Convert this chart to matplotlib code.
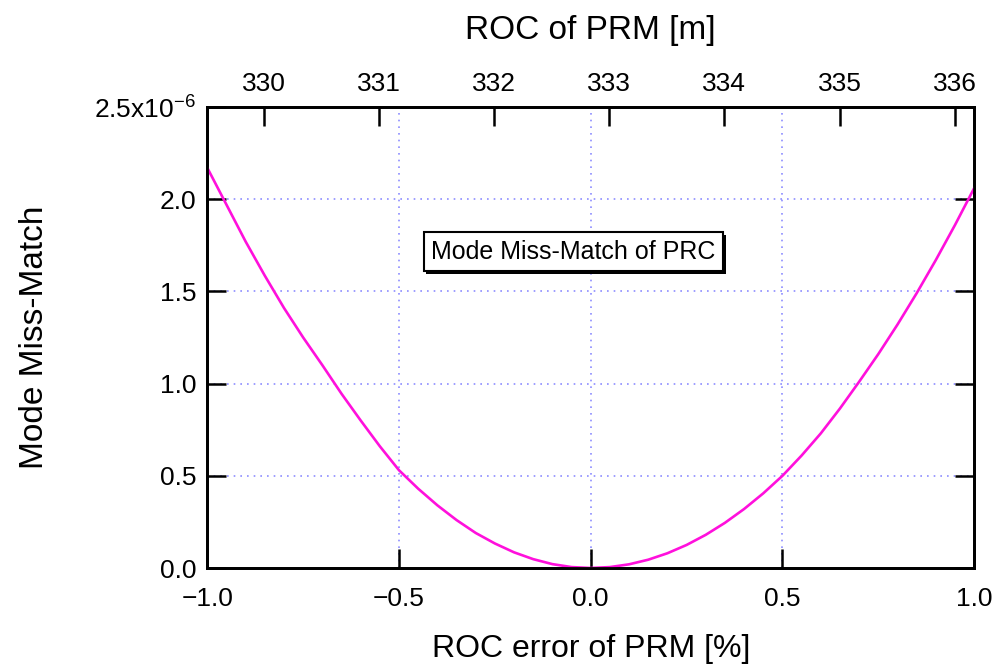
import matplotlib
matplotlib.use('Agg')
import matplotlib.pyplot as plt
import matplotlib.patheffects as pe
import numpy as np

# ROC error of PRM [%] vs mode miss-match (in units of 1e-6)
roc_err = [-1.0, -0.95, -0.9, -0.85, -0.8, -0.75, -0.7, -0.65, -0.6, -0.55,
           -0.5, -0.45, -0.4, -0.35, -0.3, -0.25, -0.2, -0.15, -0.1, -0.05, 0.0,
           0.05, 0.1, 0.15, 0.2, 0.25, 0.3, 0.35, 0.4, 0.45, 0.5,
           0.55, 0.6, 0.65, 0.7, 0.75, 0.8, 0.85, 0.9, 0.95, 1.0]
mismatch = [2.17, 1.97, 1.77, 1.585, 1.41, 1.25, 1.10, 0.945, 0.80, 0.66,
            0.53, 0.43, 0.34, 0.26, 0.19, 0.133, 0.085, 0.048, 0.021, 0.005, 0.0,
            0.005, 0.02, 0.045, 0.08, 0.125, 0.18, 0.245, 0.32, 0.405, 0.50,
            0.61, 0.73, 0.865, 1.01, 1.16, 1.32, 1.49, 1.67, 1.86, 2.06]

y_ticks = [0.0, 0.5, 1.0, 1.5, 2.0, 2.5]
y_labels = ['0.0', '0.5', '1.0', '1.5', '2.0', r'2.5x10$^{-6}$']
x_ticks = [-1.0, -0.5, 0.0, 0.5, 1.0]
x_labels = ['\u22121.0', '\u22120.5', '0.0', '0.5', '1.0']
top_ticks = [330, 331, 332, 333, 334, 335, 336]
R0 = 332.84  # nominal ROC of PRM [m]

plt.rcParams['font.family'] = ['Liberation Sans', 'DejaVu Sans']
plt.rcParams['mathtext.default'] = 'regular'

fig = plt.figure(figsize=(9.92, 6.71), dpi=100)
ax = fig.add_axes([0.209, 0.1535, 0.773, 0.687])

ax.plot(roc_err, mismatch, color='#ff10dc', lw=1.9, zorder=3)

ax.set_xlim(-1.0, 1.0)
ax.set_ylim(0.0, 2.5)
ax.set_xticks(x_ticks)
ax.set_xticklabels(x_labels)
ax.set_yticks(y_ticks)
ax.set_yticklabels(y_labels)
ax.grid(True, ls=(0, (1, 3)), color='#8c8cff', lw=1.2, zorder=1)

ax.tick_params(axis='y', direction='in', length=14, width=1.8,
               labelsize=19, left=True, right=True, pad=8)
ax.tick_params(axis='x', direction='in', length=14, width=1.8,
               labelsize=19, bottom=True, top=False, pad=14)
for s in ax.spines.values():
    s.set_linewidth(2)

ax.set_xlabel('ROC error of PRM [%]', fontsize=23, labelpad=16)
ax.set_ylabel('Mode Miss-Match', fontsize=24, labelpad=32)

# top axis: absolute ROC
top = ax.twiny()
top.set_xlim(R0 * (1 + x_ticks[0] / 100), R0 * (1 + x_ticks[-1] / 100))
top.set_xticks(top_ticks)
top.tick_params(direction='in', length=14, width=1.8, labelsize=19, pad=8)
top.tick_params(axis='x', bottom=False)
top.set_xlabel('ROC of PRM [m]', fontsize=24, labelpad=24)
for s in top.spines.values():
    s.set_linewidth(2)

# label box with shadow
t = ax.text(-0.045, 1.715, 'Mode Miss-Match of PRC', fontsize=18, ha='center',
            va='center', zorder=7,
            bbox=dict(boxstyle='square,pad=0.3', fc='white', ec='black', lw=1.5))
t.get_bbox_patch().set_path_effects([
    pe.SimplePatchShadow(offset=(1.8, -1.8), shadow_rgbFace='black', alpha=1.0),
    pe.Normal()])

fig.savefig('out.png', dpi=100)
